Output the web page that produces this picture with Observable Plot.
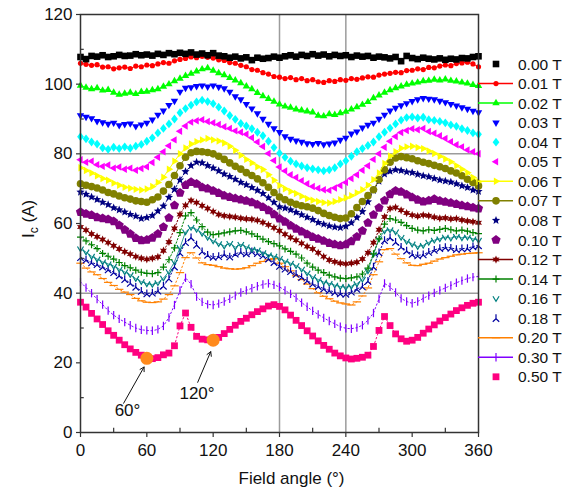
<!DOCTYPE html>
<html><head><meta charset="utf-8">
<script src="https://cdn.jsdelivr.net/npm/d3@7"></script>
<script src="https://cdn.jsdelivr.net/npm/@observablehq/plot@0.6"></script>
<style>body{margin:0;background:#fff}</style>
</head><body><div id="chart"></div>
<script>
const angles = [0,5,10,15,20,25,30,35,40,45,50,55,60,65,70,75,80,85,90,95,100,105,110,115,120,125,130,135,140,145,150,155,160,165,170,175,180,185,190,195,200,205,210,215,220,225,230,235,240,245,250,255,260,265,270,275,280,285,290,295,300,305,310,315,320,325,330,335,340,345,350,355,360];
const fields = ["0.00 T","0.01 T","0.02 T","0.03 T","0.04 T","0.05 T","0.06 T","0.07 T","0.08 T","0.10 T","0.12 T","0.14 T","0.16 T","0.18 T","0.20 T","0.30 T","0.50 T"];

const s000 = [107.8,107.2,108.1,107.9,108.3,107.8,108.0,108.4,108.1,108.2,108.6,108.3,108.5,108.2,108.7,108.4,108.9,108.6,109.0,108.7,109.1,108.5,108.8,108.3,108.9,108.2,108.0,107.6,107.9,107.4,107.7,106.9,107.6,107.3,107.5,107.9,107.6,108.0,108.3,107.9,108.4,108.1,108.6,108.2,108.5,108.0,108.4,108.1,108.3,107.8,108.2,107.9,108.1,107.6,107.9,107.7,107.4,107.8,106.6,108.1,107.5,107.2,107.6,107.3,107.1,107.4,107.0,107.3,107.1,107.5,107.4,107.8,108.0];
const s001 = [106.0,105.7,105.4,105.6,104.9,105.0,104.4,104.7,104.9,104.5,105.2,105.0,105.5,105.3,105.8,106.2,106.0,106.7,107.1,107.4,107.8,107.6,108.0,107.7,107.5,107.0,106.8,106.2,106.0,105.4,105.0,104.2,104.0,103.3,102.9,102.2,102.0,101.6,101.9,101.3,101.6,101.0,101.3,100.7,100.5,101.0,100.8,101.3,101.1,101.6,101.4,101.8,102.1,102.0,102.6,102.9,103.1,103.4,103.3,103.9,104.0,104.4,104.2,104.8,104.7,105.2,105.5,105.3,105.9,106.1,106.3,105.8,105.0];
const s002 = [99.6,99.0,98.6,98.9,98.2,98.4,97.6,97.0,97.3,97.6,97.2,97.8,97.9,98.3,98.6,99.3,100.0,100.9,101.6,102.4,103.0,103.7,104.3,104.6,103.9,103.2,102.6,101.8,101.1,100.3,99.4,98.6,97.5,96.6,95.8,95.0,94.2,93.6,93.3,92.8,92.5,92.2,91.9,91.0,90.8,91.4,91.2,91.7,92.1,92.8,93.4,94.1,94.9,96.0,96.8,97.6,98.3,98.9,99.4,99.9,100.2,100.5,100.9,101.0,101.3,101.1,101.4,101.0,100.8,100.5,100.2,99.8,99.5];
const s003 = [91.0,90.6,90.2,89.4,89.0,88.6,88.9,88.2,88.5,88.7,87.9,88.4,88.9,89.8,91.2,92.4,94.0,95.2,97.8,98.9,99.1,99.4,99.6,99.3,99.6,99.2,98.8,97.8,96.5,95.6,94.3,93.0,91.6,90.0,88.6,87.3,86.2,85.0,84.3,83.8,83.4,83.0,82.8,83.1,82.7,82.9,83.2,84.0,84.6,85.8,86.4,87.5,88.3,88.9,90.0,91.2,92.4,93.2,93.9,94.5,95.1,95.6,96.0,95.8,95.6,95.2,94.8,94.3,93.8,93.3,92.9,92.3,91.9];
const s004 = [84.9,84.3,83.4,82.8,81.7,81.3,81.9,81.5,82.0,81.6,82.2,82.7,83.6,84.6,86.0,87.3,88.6,90.0,91.8,93.0,94.0,94.9,95.4,95.0,94.4,93.4,92.3,91.0,89.9,88.7,88.0,87.2,86.2,85.2,83.6,81.8,80.2,79.0,77.9,77.1,76.5,76.0,75.7,75.4,75.1,75.4,76.0,77.1,78.0,79.3,80.6,81.5,82.4,83.4,84.9,86.2,87.4,88.6,89.7,90.4,90.6,90.3,90.5,89.8,89.6,89.3,88.9,88.3,87.9,87.2,86.7,86.0,85.6];
const s005 = [78.3,77.6,77.9,76.9,76.4,76.8,75.9,76.2,75.6,75.9,75.3,75.8,76.3,77.5,79.0,80.6,82.3,84.0,86.5,88.0,89.1,89.5,89.8,89.3,88.9,88.4,87.8,87.3,86.6,86.2,85.6,84.6,83.4,82.1,80.1,78.1,76.2,75.1,74.0,73.2,72.3,71.4,70.6,70.1,69.7,69.5,70.2,70.9,71.8,72.9,74.0,75.3,76.6,78.4,80.0,81.9,83.6,85.0,86.1,86.7,87.2,86.9,87.3,86.4,85.9,85.2,84.4,83.5,82.6,82.0,81.1,80.6,80.0];
const s006 = [76.0,75.2,74.5,73.7,72.9,72.4,71.6,71.0,70.4,70.1,69.8,69.6,69.9,70.6,71.8,73.3,75.6,77.9,80.0,81.7,82.8,83.5,84.0,84.4,84.0,83.7,83.1,82.2,81.0,79.6,78.4,77.4,76.3,75.5,74.0,72.4,70.9,70.0,69.2,68.6,67.8,67.1,66.7,66.3,66.0,65.9,66.3,66.8,67.3,68.0,68.8,69.7,71.0,72.6,74.5,77.2,79.4,80.6,81.6,82.0,82.2,81.8,81.5,80.8,80.1,79.3,78.5,77.7,76.6,75.6,74.6,73.2,72.0];
const s007 = [71.4,71.0,70.6,70.2,69.6,68.9,68.5,67.9,67.4,67.0,66.5,66.3,66.1,66.8,67.6,69.3,71.2,73.8,76.6,79.0,80.3,80.7,80.6,80.4,80.0,79.3,78.4,77.4,76.4,75.6,74.6,73.8,72.8,71.7,70.4,68.9,67.6,66.8,66.1,65.5,65.1,64.8,64.4,63.7,62.9,62.3,61.8,61.4,61.6,62.8,64.6,66.3,68.0,69.7,72.6,75.4,77.6,78.8,79.2,78.9,78.6,78.0,77.6,77.2,76.7,76.3,75.8,75.1,74.5,73.7,72.7,71.8,70.8];
const s008 = [69.0,68.4,67.6,66.9,66.1,65.4,64.5,63.9,63.3,62.6,62.1,61.4,61.7,62.3,63.6,65.0,67.5,69.8,72.5,74.9,76.6,77.6,77.4,76.6,75.9,75.1,74.2,73.5,72.7,71.8,71.1,70.3,69.5,68.6,67.4,66.1,64.8,64.4,63.9,63.2,62.5,61.8,61.1,60.3,59.8,59.3,59.0,58.8,59.2,60.2,61.7,63.4,66.2,69.5,72.1,74.2,75.0,75.4,75.2,74.8,74.6,74.1,73.7,73.4,72.9,72.5,72.2,71.9,71.4,70.8,70.3,69.6,69.2];
const s010 = [63.3,62.8,62.4,61.8,61.5,61.2,60.6,59.5,58.2,57.0,55.8,55.2,55.3,55.9,57.0,59.0,61.6,65.2,68.8,71.0,71.9,71.4,70.4,70.0,69.4,68.7,68.0,67.6,67.2,66.9,66.5,66.1,65.4,64.7,63.8,62.6,61.4,60.5,59.4,58.5,57.7,56.9,56.1,55.6,55.0,54.4,54.0,53.7,54.0,54.9,56.2,57.9,60.2,62.5,64.5,66.6,68.4,69.4,69.1,68.3,67.5,66.8,66.3,66.6,67.0,66.5,66.2,65.9,65.6,65.2,64.9,64.6,64.3];
const s012 = [59.0,58.1,57.0,56.2,55.4,54.5,53.6,52.7,51.9,51.2,50.5,50.0,49.7,50.0,50.4,52.2,54.7,58.6,62.6,65.2,66.6,66.0,65.1,64.3,63.4,62.6,62.2,62.0,61.8,61.5,61.3,61.2,60.9,60.3,59.6,58.8,57.9,56.9,56.0,55.2,54.3,53.4,52.7,51.6,50.5,49.5,49.0,48.6,48.4,48.6,48.9,49.8,51.6,54.5,58.2,61.9,64.3,64.6,63.8,63.0,62.4,62.1,62.4,62.2,61.8,61.5,61.6,61.3,61.4,61.0,60.7,60.5,60.2];
const s014 = [56.1,55.0,53.9,52.8,51.4,50.6,49.8,48.8,47.9,47.3,46.6,46.0,45.7,45.6,45.9,47.5,49.6,53.0,57.4,62.2,63.1,61.0,59.1,57.5,56.8,57.0,57.3,57.6,57.9,58.0,57.6,57.0,56.3,55.5,54.8,54.2,53.6,52.7,52.0,51.2,50.1,48.6,47.5,46.6,45.9,45.2,44.7,44.3,44.2,44.4,44.7,45.5,47.2,51.3,55.6,59.8,61.4,61.0,60.3,59.4,58.6,58.1,57.9,58.2,58.0,58.3,58.6,58.2,57.9,58.1,57.8,57.4,57.1];
const s016 = [52.7,51.8,50.6,49.8,49.0,48.4,47.8,46.9,46.1,45.3,44.2,43.3,42.7,42.5,43.0,44.3,46.2,49.0,53.1,57.6,58.9,58.3,57.2,56.0,55.0,54.2,53.5,54.3,53.2,54.0,53.3,52.6,52.4,51.6,51.0,50.6,50.0,49.2,48.6,47.9,46.9,45.8,44.7,43.9,43.2,42.8,42.3,41.9,41.7,42.0,42.7,44.0,46.4,51.2,55.6,57.9,58.2,57.6,56.0,54.9,54.1,53.4,53.7,54.6,55.2,55.6,56.1,55.8,56.3,55.9,56.1,55.6,55.2];
const s018 = [50.3,49.6,48.8,48.3,47.6,46.8,46.0,45.1,44.0,42.9,41.8,40.6,39.9,40.1,40.7,42.1,44.2,47.6,51.6,54.6,56.0,53.9,52.0,51.0,50.4,50.6,51.2,50.5,51.3,51.8,51.4,52.0,51.5,50.8,49.9,48.9,47.8,47.0,46.3,45.5,44.6,43.6,42.7,42.0,41.3,40.8,40.3,39.9,39.8,40.4,41.2,41.9,43.5,47.6,51.7,55.2,56.0,54.7,53.3,52.2,51.2,50.8,51.1,51.8,52.4,52.9,53.2,53.0,52.6,52.8,52.9,53.4,53.7];
const s020 = [48.6,47.2,46.1,45.3,44.2,43.1,42.2,41.1,40.3,39.6,38.5,37.8,37.4,37.3,37.5,38.3,39.6,42.1,45.9,50.2,51.6,50.1,48.7,48.2,48.0,47.6,47.2,47.0,46.9,47.0,47.3,47.9,48.6,49.1,49.6,49.9,48.6,47.6,46.4,45.0,43.9,42.6,41.3,40.1,39.1,38.4,37.7,37.2,36.9,36.6,37.5,39.2,41.5,45.3,49.0,52.5,52.8,51.2,49.9,48.7,48.0,47.9,48.3,48.6,49.2,49.8,50.2,50.6,51.0,51.2,51.4,51.5,51.6];
const s030 = [43.2,41.6,40.0,38.3,36.7,35.0,33.7,32.6,31.7,30.8,30.0,29.5,29.3,29.2,29.6,30.6,33.0,36.6,40.8,44.4,42.6,39.0,37.5,36.8,36.6,37.0,37.6,38.4,39.3,40.2,40.8,41.4,42.0,42.5,42.8,42.4,41.8,40.8,39.8,38.7,37.3,36.1,34.9,33.9,32.9,32.0,31.2,30.4,29.9,29.8,30.1,30.8,32.2,34.3,38.4,42.8,41.8,40.2,38.5,37.6,37.1,37.6,38.5,39.3,40.1,40.8,41.5,42.2,43.0,43.6,44.2,44.6,44.8];
const s050 = [37.4,36.0,34.2,32.6,31.0,29.2,27.9,26.5,25.2,24.0,23.0,22.2,21.3,21.2,21.5,22.3,22.8,24.9,30.6,34.3,30.2,27.6,26.8,26.6,26.5,27.3,28.4,29.6,30.8,31.9,32.8,33.8,34.7,35.5,36.3,36.7,36.2,35.2,33.7,32.2,30.7,29.2,27.7,26.3,25.0,23.9,22.8,22.0,21.4,21.1,21.3,21.6,22.2,24.7,29.3,33.3,30.7,28.3,26.9,26.2,26.5,27.3,28.5,29.7,30.9,32.0,33.0,34.0,35.0,35.8,36.5,37.1,37.4];

const annAngles = [60, 120];
const annValues = [21.3, 26.5];
const annLabels = ["60°", "120°"];
const xTicks = [0, 60, 120, 180, 240, 300, 360];
const xMinor = [30, 90, 150, 210, 270, 330];
const yTicks = [0, 20, 40, 60, 80, 100, 120];
const yMinor = [10, 30, 50, 70, 90, 110];
const gridX = [180, 240];
const gridY = [40, 80];
const xLabel = "Field angle (°)";

const series = [s000,s001,s002,s003,s004,s005,s006,s007,s008,s010,s012,s014,s016,s018,s020,s030,s050];

// ---- symbols ----
function poly(pts) {
  return {draw(ctx, size) {
    const r = Math.sqrt(size / Math.PI);
    pts.forEach(([a, b], i) => i ? ctx.lineTo(a * r, b * r) : ctx.moveTo(a * r, b * r));
    ctx.closePath();
  }};
}
function segs(list) {
  return {draw(ctx, size) {
    const r = Math.sqrt(size / Math.PI);
    list.forEach(pl => pl.forEach(([a, b], i) => i ? ctx.lineTo(a * r, b * r) : ctx.moveTo(a * r, b * r)));
  }};
}
const rad = Math.PI / 180;
const triPts = a => [0, 120, 240].map(d => [1.3 * Math.cos((a + d) * rad), 1.3 * Math.sin((a + d) * rad)]);
const starPts = (n, ro, ri) => d3.range(2 * n).map(i => {
  const rr = i % 2 ? ri : ro, t = (-90 + i * 180 / n) * rad;
  return [rr * Math.cos(t), rr * Math.sin(t)];
});
const circ = {draw(ctx, size) { const r = Math.sqrt(size / Math.PI); ctx.moveTo(r, 0); ctx.arc(0, 0, r, 0, 2 * Math.PI); }};
const sq = poly([[-1,-1],[1,-1],[1,1],[-1,1]]);
const triUp = poly(triPts(-90)), triDown = poly(triPts(90)), triLeft = poly(triPts(180)), triRight = poly(triPts(0));
const diamond = poly([[0,-1.3],[1,0],[0,1.3],[-1,0]]);
const star5 = poly(starPts(5, 1.35, 0.6));
const star6 = poly(starPts(6, 1.25, 0.6));
const pent = poly(starPts(5, 1.1, 1.1 * Math.cos(36 * rad)).filter((_, i) => i % 2 === 0));
const plus = segs([[[-1,0],[1,0]], [[0,-1],[0,1]]]);
const caret = segs([[[-0.9,-0.7],[0,0.8],[0.9,-0.7]]]);
const tri3 = segs([[[0,-1.1],[0,0.15]], [[0,0.15],[-0.9,1]], [[0,0.15],[0.9,1]]]);
const hbar = segs([[[-1.1,0],[1.1,0]]]);
const vbar = segs([[[0,-1.1],[0,1.1]]]);

const styles = [
  {color: "#000000", sym: sq, r: 3.3},
  {color: "#ff0000", sym: circ, r: 2.6, line: true, legendLine: true},
  {color: "#00ff00", sym: triUp, r: 3.3, line: true, legendLine: true},
  {color: "#0000ff", sym: triDown, r: 3.3},
  {color: "#00ffff", sym: diamond, r: 3.4},
  {color: "#ff00ff", sym: triLeft, r: 3.3},
  {color: "#ffff00", sym: triRight, r: 3.3, line: true, legendLine: true},
  {color: "#808000", sym: circ, r: 3.8, line: true, legendLine: true},
  {color: "#000080", sym: star5, r: 3.2, line: true, dash: "1.5,2"},
  {color: "#800080", sym: pent, r: 4.4},
  {color: "#800000", sym: star6, r: 3.3, line: true, dash: "1.5,2", legendLine: true},
  {color: "#008000", sym: plus, r: 3.5, stroked: true, line: true, dash: "1.5,2", legendLine: true},
  {color: "#008080", sym: caret, r: 3.4, stroked: true, line: true, lw: 0.8},
  {color: "#0000a0", sym: tri3, r: 3.6, stroked: true, line: true, dash: "1.5,2"},
  {color: "#ff8000", sym: hbar, r: 3.8, stroked: true, line: true, dash: "1.5,2.5", legendLine: true},
  {color: "#8000ff", sym: vbar, r: 3.8, stroked: true, line: true, dash: "1.5,2.5", legendLine: true},
  {color: "#ff0080", sym: sq, r: 3.4, line: true, dash: "1.5,2.5"}
];

const rows = [];
series.forEach((vals, k) => vals.forEach((v, i) => {
  if (angles[i] !== undefined) rows.push({angle: angles[i], value: v, field: fields[k]});
}));
const ann = annAngles.map((a, i) => ({angle: a, value: annValues[i], label: annLabels[i]}));
const annText = [{x: 42.5, y: 6.2, label: annLabels[0]}, {x: 105.4, y: 11.1, label: annLabels[1]}];
const annArrows = [{x1: 39, y1: 8.4, x2: 57.5, y2: 18.8}, {x1: 106, y1: 14.4, x2: 117.8, y2: 23.2}];

const marks = [
  Plot.ruleY(gridY, {stroke: "#9c9c9c", strokeWidth: 1.5}),
  Plot.ruleX(gridX, {stroke: "#9c9c9c", strokeWidth: 1.5})
];
for (let k = styles.length - 1; k >= 0; k--) {
  const st = styles[k];
  const d = rows.filter(r => r.field === fields[k]);
  if (st.line) marks.push(Plot.line(d, {x: "angle", y: "value", stroke: st.color, strokeWidth: st.lw || 1, strokeDasharray: st.dash}));
  marks.push(Plot.dot(d, {
    x: "angle", y: "value", symbol: st.sym, r: st.r,
    fill: st.stroked ? "none" : st.color,
    stroke: st.stroked ? st.color : "none",
    strokeWidth: 1.2
  }));
}
marks.push(
  Plot.frame({stroke: "#333", strokeWidth: 1.5}),
  Plot.ruleX(xMinor, {y1: 0, y2: 1.2, stroke: "#333", strokeWidth: 1.2}),
  Plot.ruleY(yMinor, {x1: 0, x2: 3.4, stroke: "#333", strokeWidth: 1.2}),
  Plot.axisX({ticks: xTicks, tickSize: 5, tickPadding: 6, label: null, stroke: "#333", strokeWidth: 1.2, fill: "#111"}),
  Plot.axisY({ticks: yTicks, tickSize: 4, tickPadding: 4, label: null, stroke: "#333", strokeWidth: 1.2, fill: "#111"}),
  Plot.text([xLabel], {frameAnchor: "bottom", lineAnchor: "middle", dy: 46, dx: 12, fontSize: 17, fill: "#111"}),
  Plot.dot(ann, {x: "angle", y: "value", r: 6.5, fill: "#ff8a1c"}),
  Plot.arrow(annArrows, {x1: "x1", y1: "y1", x2: "x2", y2: "y2", stroke: "#111", strokeWidth: 1, headLength: 7}),
  Plot.text(annText, {x: "x", y: "y", text: "label", fontSize: 17, fill: "#111"})
);

const chart = Plot.plot({
  width: 576, height: 494,
  marginLeft: 80, marginRight: 98, marginTop: 14, marginBottom: 62,
  x: {domain: [0, 360]},
  y: {domain: [0, 120]},
  style: {fontFamily: "'Liberation Sans', Arial, sans-serif", fontSize: "17px", background: "white", overflow: "visible"},
  marks
});
document.getElementById("chart").append(chart);

const svg = d3.select(chart);
// y-axis label with subscript
const yl = svg.append("text").attr("transform", "translate(34,219) rotate(-90)")
  .attr("text-anchor", "middle").attr("font-size", 17).attr("fill", "#111");
yl.append("tspan").text("I");
yl.append("tspan").attr("dy", 4).attr("font-size", 12).text("c");
yl.append("tspan").attr("dy", -4).text(" (A)");

// legend
const lg = svg.append("g").attr("text-anchor", "start");
styles.forEach((st, k) => {
  const y = 64 + k * 19.55;
  if (st.legendLine) lg.append("line").attr("x1", 478).attr("x2", 513).attr("y1", y).attr("y2", y)
    .attr("stroke", st.color).attr("stroke-width", 1.5);
  lg.append("path").attr("transform", `translate(496,${y})`)
    .attr("d", d3.symbol(st.sym, Math.PI * st.r * st.r)())
    .attr("fill", st.stroked ? "none" : st.color)
    .attr("stroke", st.stroked ? st.color : "none").attr("stroke-width", 1.2);
  lg.append("text").attr("x", 518).attr("y", y).attr("dy", "0.36em").attr("text-anchor", "start")
    .attr("font-size", 15.5).attr("fill", "#111").text(fields[k]);
});
</script>
</body></html>
